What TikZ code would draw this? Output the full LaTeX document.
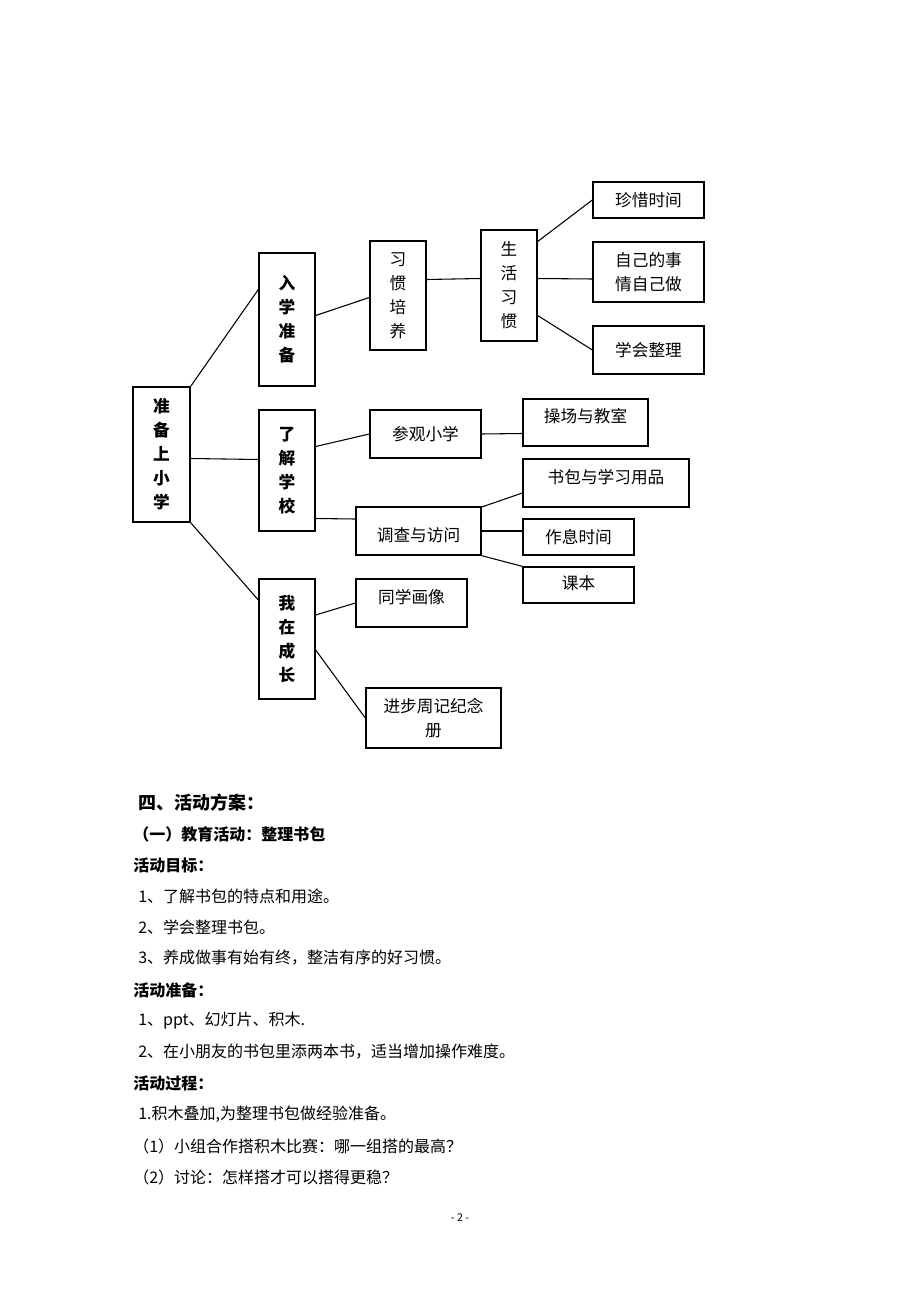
\documentclass[tikz,border=0pt]{standalone}
\usepackage{fontspec}
\setmainfont{Noto Sans CJK SC}
\usetikzlibrary{calc}
\tikzset{
  box/.style={draw, line width=1pt, inner sep=0pt, align=center,
    font=\fontsize{12.5}{18}\selectfont},
  vbox/.style={box, font=\fontsize{12.5}{18}\selectfont\bfseries},
  txt/.style={anchor=west, inner sep=0pt, font=\fontsize{12}{14}\selectfont},
  head/.style={txt, font=\fontsize{12}{14}\selectfont\bfseries},
  link/.style={line width=0.8pt}
}
\newcommand{\bx}[5]{% name, x1, y1, x2, y2
  \node[box, minimum width={(#4-#2)*0.75pt}, minimum height={(#5-#3)*0.75pt}]
    (#1) at ({(#2+#4)/2},{(#3+#5)/2}) {};}
\begin{document}
\begin{tikzpicture}[x=0.75pt, y=-0.75pt]
\useasboundingbox (0,0) rectangle (920,1302);

% tree boxes
\bx{root}{133}{387}{190}{522}
\bx{ruxue}{259}{253}{315}{386}
\bx{liaojie}{259}{410}{315}{531}
\bx{chengzhang}{259}{579}{315}{699}
\bx{xiguan}{370}{241}{426}{350}
\bx{shenghuo}{481}{230}{537}{341}
\bx{zhenxi}{593}{182}{704}{218}
\bx{ziji}{593}{242}{704}{302}
\bx{zhengli}{593}{326}{704}{374}
\bx{canguan}{370}{410}{481}{458}
\bx{caochang}{523}{399}{648}{446}
\bx{diaocha}{356}{507}{481}{555}
\bx{shubao}{523}{459}{689}{507}
\bx{zuoxi}{523}{519}{634}{555}
\bx{keben}{523}{567}{634}{603}
\bx{huaxiang}{356}{579}{467}{627}
\bx{zhouji}{366}{688}{501}{748}

% box texts
\node[vbox, draw=none] at (root) {准\\备\\上\\小\\学};
\node[vbox, draw=none] at (ruxue) {入\\学\\准\\备};
\node[vbox, draw=none] at (liaojie) {了\\解\\学\\校};
\node[vbox, draw=none] at (chengzhang) {我\\在\\成\\长};
\node[box, draw=none] at (xiguan) {习\\惯\\培\\养};
\node[box, draw=none] at (shenghuo) {生\\活\\习\\惯};
\node[box, draw=none] at (zhenxi) {珍惜时间};
\node[box, draw=none] at (ziji) {自己的事\\情自己做};
\node[box, draw=none] at (zhengli) {学会整理};
\node[box, draw=none] at (canguan) {参观小学};
\node[box, draw=none] at ($(caochang)+(0,-6)$) {操场与教室};
\node[box, draw=none] at ($(diaocha)+(0,4)$) {调查与访问};
\node[box, draw=none] at ($(shubao)+(0,-6)$) {书包与学习用品};
\node[box, draw=none] at (zuoxi) {作息时间};
\node[box, draw=none] at ($(keben)+(0,-2)$) {课本};
\node[box, draw=none] at ($(huaxiang)+(0,-6)$) {同学画像};
\node[box, draw=none] at (zhouji) {进步周记纪念\\册};

% connectors
\draw[link] (root.north east) -- ($(ruxue.west)+(0,-30)$);
\draw[link] ($(root.east)+(0,4)$) -- ($(liaojie.west)+(0,-11)$);
\draw[link] (root.south east) -- ($(chengzhang.west)+(0,-39)$);
\draw[link] ($(ruxue.east)+(0,-4)$) -- ($(xiguan.west)+(0,2)$);
\draw[link] ($(xiguan.east)+(0,-16)$) -- ($(shenghuo.west)+(0,-7)$);
\draw[link] ($(shenghuo.east)+(0,-44)$) -- (zhenxi.west);
\draw[link] ($(shenghuo.east)+(0,-7)$) -- ($(ziji.west)+(0,7)$);
\draw[link] ($(shenghuo.east)+(0,30)$) -- (zhengli.west);
\draw[link] ($(liaojie.east)+(0,-24)$) -- (canguan.west);
\draw[link] (canguan.east) -- ($(caochang.west)+(0,11)$);
\draw[link] ($(liaojie.east)+(0,48)$) -- ($(diaocha.west)+(0,-12)$);
\draw[link] ($(diaocha.east)+(0,-24)$) -- ($(shubao.west)+(0,10)$);
\draw[link] (diaocha.east) -- ($(zuoxi.west)+(0,-6)$);
\draw[link] (diaocha.south east) -- (keben.north west);
\draw[link] ($(chengzhang.east)+(0,-24)$) -- (huaxiang.west);
\draw[link] ($(chengzhang.east)+(0,11)$) -- (zhouji.west);

% text below
\node[head, font=\fontsize{13.5}{16}\selectfont\bfseries] (t1) at (138,803) {四、活动方案：};
\node[head] (t2) at (133,834) {（一）教育活动：整理书包};
\node[head] (t3) at (133,865) {活动目标：};
\node[txt] (t4) at (138,896) {1、了解书包的特点和用途。};
\node[txt] (t5) at (138,927) {2、学会整理书包。};
\node[txt] (t6) at (138,958) {3、养成做事有始有终，整洁有序的好习惯。};
\node[head] (t7) at (133,990) {活动准备：};
\node[txt] (t8) at (138,1021) {1、ppt、幻灯片、积木.};
\node[txt] (t9) at (138,1052) {2、在小朋友的书包里添两本书，适当增加操作难度。};
\node[head] (t10) at (133,1083) {活动过程：};
\node[txt] (t11) at (138,1114) {1.积木叠加,为整理书包做经验准备。};
\node[txt] (t12) at (133,1146) {（1）小组合作搭积木比赛：哪一组搭的最高？};
\node[txt] (t13) at (133,1177) {（2）讨论：怎样搭才可以搭得更稳？};
\node[inner sep=0pt, font=\fontsize{8}{10}\selectfont] (pg) at (460,1218) {- 2 -};
\end{tikzpicture}
\end{document}
